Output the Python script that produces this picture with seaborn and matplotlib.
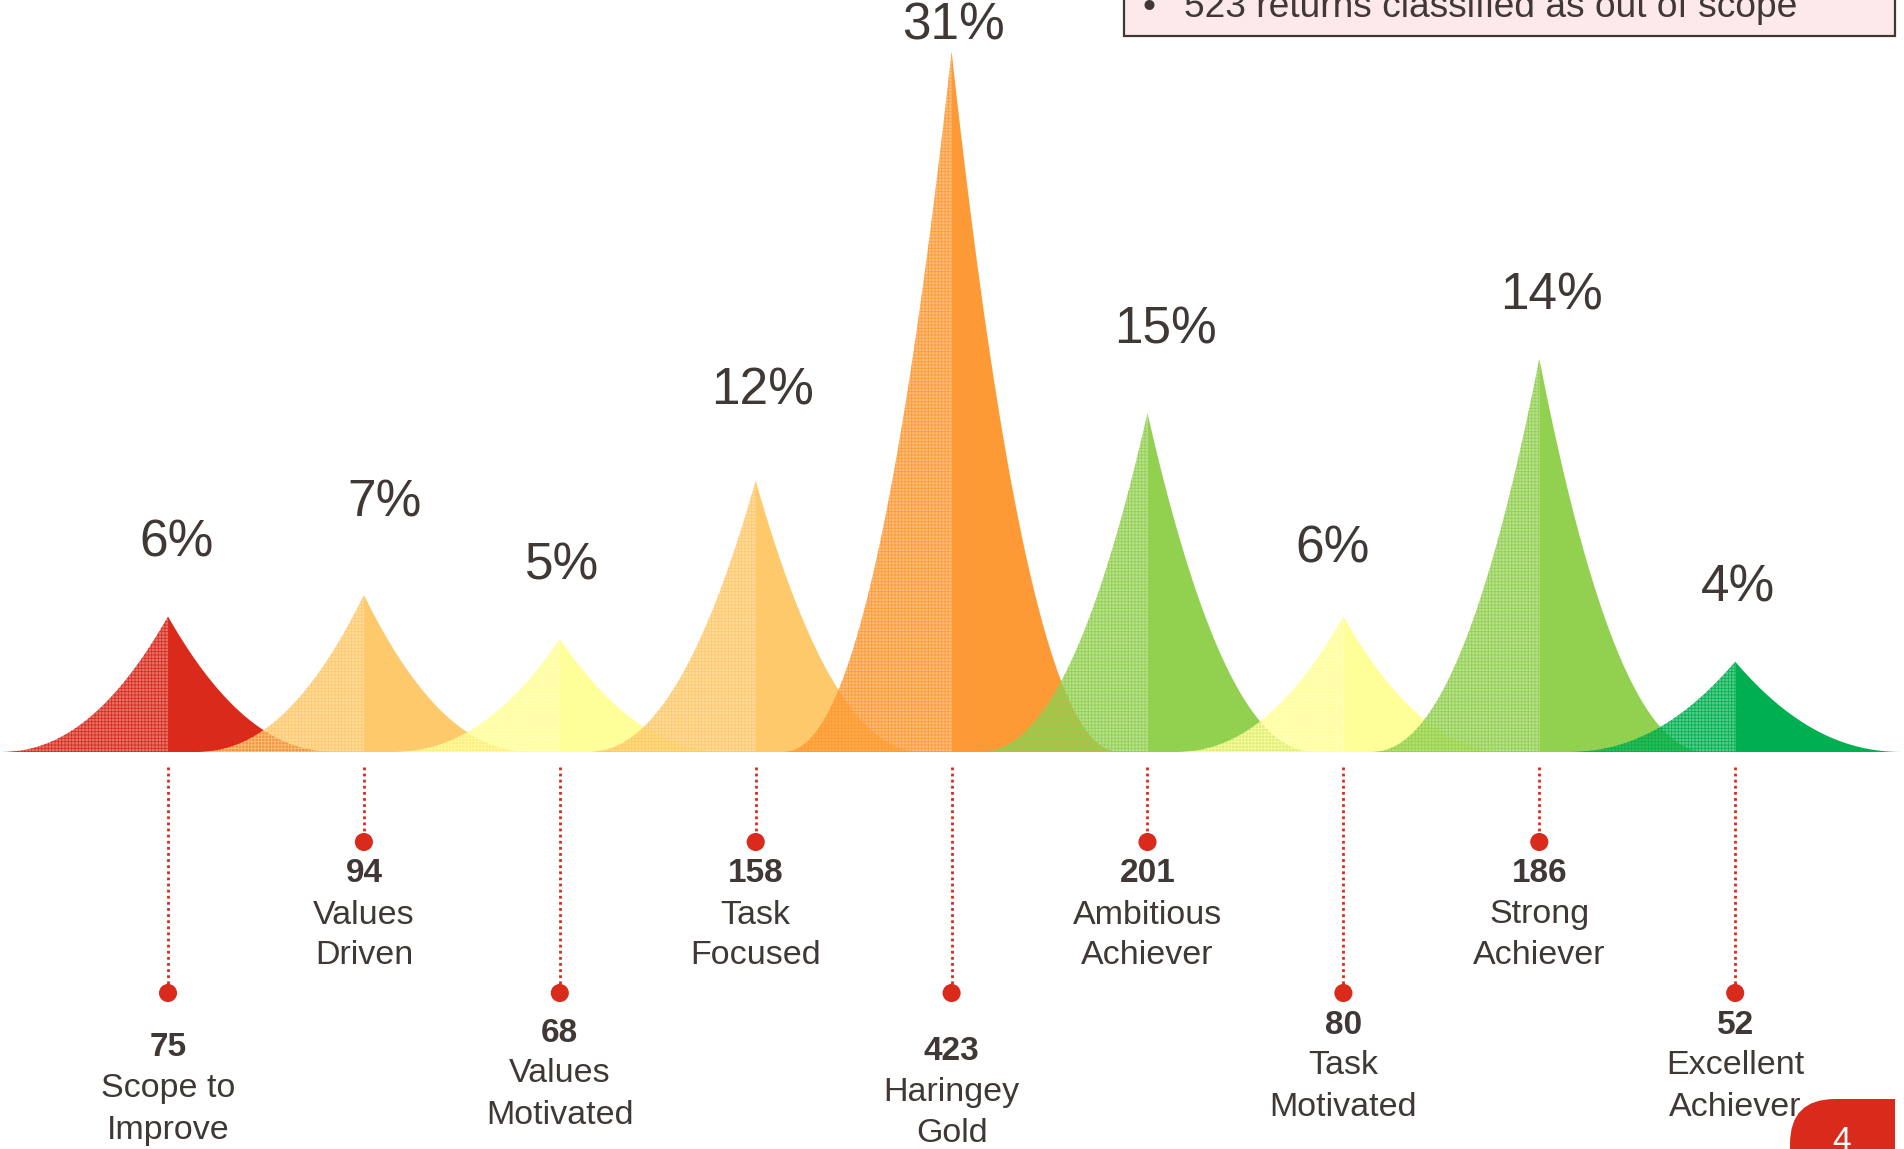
import numpy as np
import pandas as pd
import matplotlib
matplotlib.use("Agg")
import matplotlib.pyplot as plt
import matplotlib.transforms as mtransforms
from matplotlib.patches import Rectangle, FancyBboxPatch
from matplotlib.colors import to_rgb
import seaborn as sns

# ---------------- data ----------------
categories = ["Scope to\nImprove", "Values\nDriven", "Values\nMotivated", "Task\nFocused",
              "Haringey\nGold", "Ambitious\nAchiever", "Task\nMotivated", "Strong\nAchiever",
              "Excellent\nAchiever"]
counts = [75, 94, 68, 158, 423, 201, 80, 186, 52]
pct_labels = ["6%", "7%", "5%", "12%", "31%", "15%", "6%", "14%", "4%"]
peak_heights = [6.0, 6.95, 5.0, 12.0, 31.0, 15.0, 6.0, 17.4, 4.0]   # drawn peak height (% units)
colors = ["#d92a1c", "#fec96a", "#ffff99", "#fec96a", "#fd9a35",
          "#92d050", "#ffff99", "#92d050", "#00b050"]
note_text = "523 returns classified as out of scope"
page_number = "4"

# ---------------- layout ----------------
W, H = 1904, 1149
PX0, STEP = 168, 195.9          # pixel x of first peak, spacing
BASE_PX, UNIT_PX = 752, 22.6    # baseline pixel row, px per % unit
HALF_W = 0.865                  # half width of a peak (category units)
POW = 2.2
pct_label_px = [(177, 543), (385, 503), (562, 566), (763, 391), (953, 26),
                (1165, 330), (1333, 549), (1551, 296), (1738, 588)]
dot_row_px = [993, 842, 993, 842, 993, 842, 993, 842, 993]
num_offset_px = [55, 32, 40, 32, 59, 32, 32, 32, 32]
LINE_TOP_PX = 767
LINE_GAP = 41
TXT = "#3f3835"
DOT = "#d92a1c"

sns.set_theme(style="white")
plt.rcParams["font.family"] = ["Liberation Sans", "DejaVu Sans"]
plt.rcParams["hatch.linewidth"] = 0.6

fig = plt.figure(figsize=(W / 100, H / 100), dpi=100)
ax = fig.add_axes([0, 0, 1, 1])
ax.set_xlim(-PX0 / STEP, (W - PX0) / STEP)
ax.set_ylim(-(H - BASE_PX) / UNIT_PX, BASE_PX / UNIT_PX)
ax.axis("off")

# peaks: hatched translucent left half, solid right half
for i, (h, c) in enumerate(zip(peak_heights, colors)):
    xl = np.linspace(i - HALF_W, i, 300)
    yl = h * (1 - np.abs(xl - i) / HALF_W) ** POW
    xr = np.linspace(i, i + HALF_W, 300)
    yr = h * (1 - np.abs(xr - i) / HALF_W) ** POW
    ax.fill_between(xl, 0, yl, facecolor=(*to_rgb(c), 0.66),
                    edgecolor=(*to_rgb(c), 0.95), hatch="+++++", linewidth=0, zorder=2 + 2 * i)
    ax.fill_between(xr, 0, yr, facecolor=c, edgecolor="none", linewidth=0, zorder=3 + 2 * i)

# transforms
bt = mtransforms.blended_transform_factory(ax.transData, fig.transFigure)
def fy(py):
    return 1 - py / H
def fx(px):
    return px / W

# percent labels
for lab, (px, py) in zip(pct_labels, pct_label_px):
    fig.text(fx(px), fy(py), lab, ha="center", va="center", fontsize=37, color=TXT, zorder=30)

# leader lines, dots, labels
xs = np.arange(len(categories))
for i in xs:
    ax.plot([i, i], [fy(LINE_TOP_PX), fy(dot_row_px[i])], transform=bt, color=DOT,
            lw=2, linestyle=(0, (1, 1.2)), zorder=25)
dots = pd.DataFrame({"x": xs, "y": [fy(p) for p in dot_row_px]})
sns.scatterplot(data=dots, x="x", y="y", ax=ax, transform=bt, s=170, color=DOT,
                edgecolor="none", zorder=26, legend=False)

for i, (name, n) in enumerate(zip(categories, counts)):
    y0 = dot_row_px[i] + num_offset_px[i]
    ax.text(i, fy(y0), f"{n}", transform=bt, ha="center", va="center", fontsize=24,
            fontweight="bold", color=TXT, zorder=30)
    for k, line in enumerate(name.split("\n")):
        ax.text(i, fy(y0 + LINE_GAP * (k + 1)), line, transform=bt, ha="center", va="center",
                fontsize=24.5, color=TXT, zorder=30)

# note box at top right
box = Rectangle((fx(1124), fy(36)), fx(1895) - fx(1124), fy(-10) - fy(36),
                transform=fig.transFigure, facecolor="#fde9e9", edgecolor=TXT, lw=1.6, zorder=40)
fig.add_artist(box)
fig.text(fx(1149), fy(17), "\u2022", ha="center", va="baseline", fontsize=26.7, color=TXT, zorder=41)
fig.text(fx(1184), fy(17), note_text, ha="left", va="baseline", fontsize=26.7, color=TXT, zorder=41)

# page badge bottom right
idt = mtransforms.IdentityTransform()
badge = FancyBboxPatch((1790, -60), 105, 110, boxstyle="round,pad=0,rounding_size=45",
                       transform=idt, facecolor="#d92a1c", edgecolor="none", zorder=40)
fig.add_artist(badge)
fig.add_artist(Rectangle((1845, -10), 50, 60, transform=idt, facecolor="#d92a1c",
                         edgecolor="none", zorder=40))
fig.text(fx(1842), fy(1141), page_number, ha="center", va="center", fontsize=24,
         color="white", zorder=41)

fig.savefig("out.png", dpi=100)
